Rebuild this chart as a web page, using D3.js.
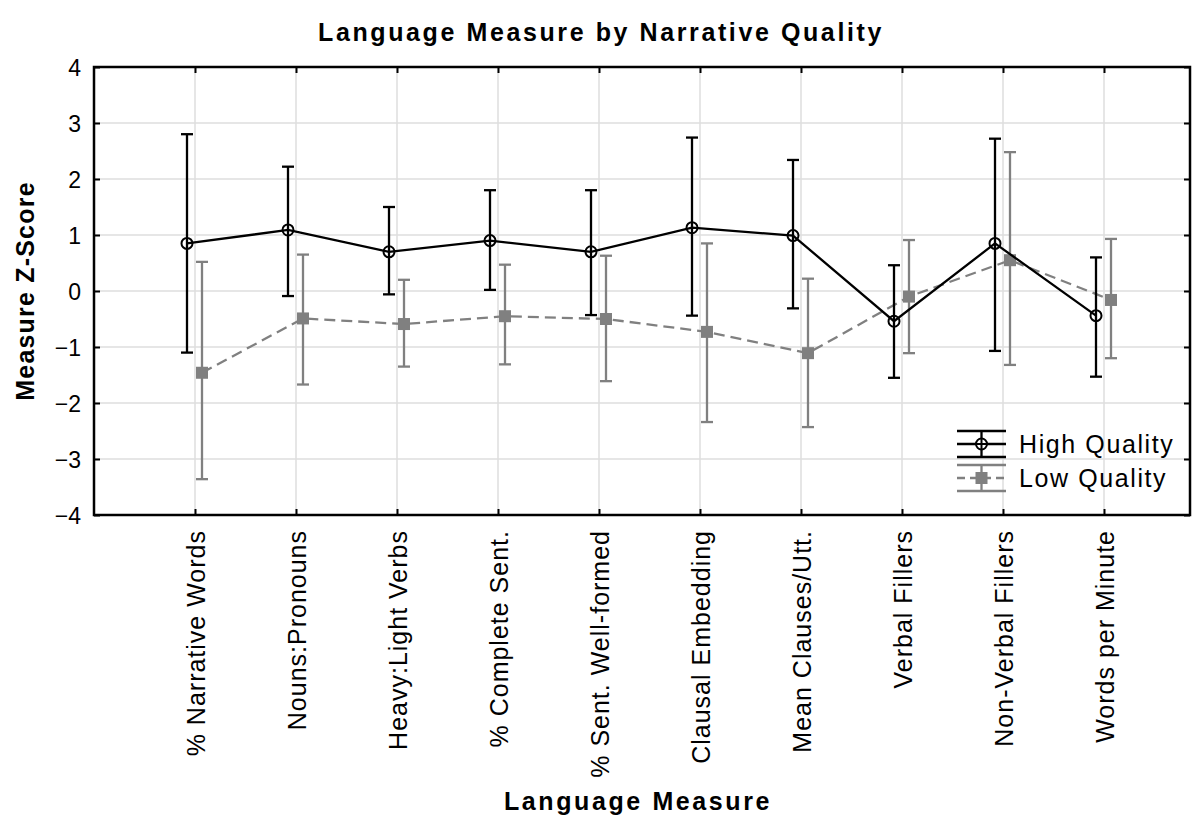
<!DOCTYPE html>
<html>
<head>
<meta charset="utf-8">
<script src="https://cdn.jsdelivr.net/npm/d3@7"></script>
<style>
  body { margin: 0; background: #fff; }
  text { font-family: "Liberation Sans", Arial, sans-serif; fill: #000; }
</style>
</head>
<body>
<script>
// categories along the x axis
let categories = ["% Narrative Words", "Nouns:Pronouns", "Heavy:Light Verbs", "% Complete Sent.",
  "% Sent. Well-formed", "Clausal Embedding", "Mean Clauses/Utt.", "Verbal Fillers",
  "Non-Verbal Fillers", "Words per Minute"];

// High Quality group: mean and error bar ends
let highMean  = [0.85, 1.09, 0.70, 0.90, 0.70, 1.13, 0.99, -0.54, 0.85, -0.44];
let highUpper = [2.80, 2.22, 1.50, 1.80, 1.80, 2.74, 2.34, 0.46, 2.72, 0.60];
let highLower = [-1.10, -0.09, -0.06, 0.02, -0.43, -0.44, -0.31, -1.55, -1.07, -1.53];

// Low Quality group
let lowMean  = [-1.46, -0.49, -0.59, -0.45, -0.50, -0.73, -1.11, -0.10, 0.55, -0.16];
let lowUpper = [0.52, 0.65, 0.20, 0.47, 0.63, 0.85, 0.22, 0.91, 2.48, 0.93];
let lowLower = [-3.36, -1.67, -1.35, -1.31, -1.61, -2.34, -2.43, -1.11, -1.32, -1.20];

let yTicks = [-4, -3, -2, -1, 0, 1, 2, 3, 4];

let width = 1203, height = 833;
let plotL = 94, plotR = 1190, plotT = 67, plotB = 515;

let svg = d3.select("body").append("svg")
  .attr("width", width).attr("height", height);

let x = d3.scalePoint().domain(categories).range([195, 1104]);
let y = d3.scaleLinear().domain([-4, 4]).range([plotB, plotT]);

// grid
let grid = svg.append("g");
grid.selectAll(".gy").data(yTicks.slice(1, -1)).join("line")
  .attr("x1", plotL).attr("x2", plotR)
  .attr("y1", d => y(d)).attr("y2", d => y(d))
  .attr("stroke", "#dedede").attr("stroke-width", 1.5);
grid.selectAll(".gx").data(categories).join("line")
  .attr("x1", d => x(d)).attr("x2", d => x(d))
  .attr("y1", plotT).attr("y2", plotB)
  .attr("stroke", "#dedede").attr("stroke-width", 1.5);

// axes, ticks pointing inside
let yAxisL = d3.axisLeft(y).tickValues(yTicks).tickSizeInner(-6).tickSizeOuter(0).tickPadding(13);
let gL = svg.append("g").attr("transform", "translate(" + plotL + ",0)").call(yAxisL);
let yAxisR = d3.axisRight(y).tickValues(yTicks).tickSizeInner(-6).tickSizeOuter(0).tickFormat("");
svg.append("g").attr("transform", "translate(" + plotR + ",0)").call(yAxisR);
let xAxisB = d3.axisBottom(x).tickSizeInner(-6).tickSizeOuter(0);
let gB = svg.append("g").attr("transform", "translate(0," + plotB + ")").call(xAxisB);
let xAxisT = d3.axisTop(x).tickSizeInner(-6).tickSizeOuter(0).tickFormat("");
svg.append("g").attr("transform", "translate(0," + plotT + ")").call(xAxisT);

svg.selectAll(".domain").remove();
svg.selectAll(".tick line").attr("stroke", "#000").attr("stroke-width", 2);
svg.append("rect")
  .attr("x", plotL).attr("y", plotT).attr("width", plotR - plotL).attr("height", plotB - plotT)
  .attr("fill", "none").attr("stroke", "#000").attr("stroke-width", 2.5);

gL.selectAll(".tick text").style("font-size", "23px").attr("dy", "0.36em");
gB.selectAll(".tick text")
  .style("font-size", "25px").style("letter-spacing", "1px")
  .attr("text-anchor", "end")
  .attr("transform", "rotate(-90)")
  .attr("x", -15).attr("y", 0).attr("dy", "0.36em");

// series
let series = [
  { name: "High Quality", mean: highMean, hi: highUpper, lo: highLower, off: -8, color: "#000", dash: null, shape: "circle" },
  { name: "Low Quality", mean: lowMean, hi: lowUpper, lo: lowLower, off: 7, color: "#808080", dash: "11,6", shape: "square" }
];

let line = d3.line().x(d => d.x).y(d => d.y);

// draw low first so the black series sits on top
series.slice().reverse().forEach(s => {
  let pts = categories.map((c, i) => ({ x: x(c) + s.off, y: y(s.mean[i]), hi: y(s.hi[i]), lo: y(s.lo[i]) }));
  let g = svg.append("g");
  g.append("path").datum(pts)
    .attr("d", line).attr("fill", "none")
    .attr("stroke", s.color).attr("stroke-width", 2.3)
    .attr("stroke-dasharray", s.dash);
  g.selectAll(".eb").data(pts).join("line")
    .attr("x1", d => d.x).attr("x2", d => d.x)
    .attr("y1", d => d.hi).attr("y2", d => d.lo)
    .attr("stroke", s.color).attr("stroke-width", 2.3);
  ["hi", "lo"].forEach(k => {
    g.selectAll(".cap" + k).data(pts).join("line")
      .attr("x1", d => d.x - 6).attr("x2", d => d.x + 6)
      .attr("y1", d => d[k]).attr("y2", d => d[k])
      .attr("stroke", s.color).attr("stroke-width", 2.3);
  });
  if (s.shape == "circle") {
    g.selectAll(".m").data(pts).join("circle")
      .attr("cx", d => d.x).attr("cy", d => d.y).attr("r", 5.5)
      .attr("fill", "none").attr("stroke", s.color).attr("stroke-width", 2);
  } else {
    g.selectAll(".m").data(pts).join("rect")
      .attr("x", d => d.x - 6).attr("y", d => d.y - 6).attr("width", 12).attr("height", 12)
      .attr("fill", s.color);
  }
});

// legend
let lg = svg.append("g").attr("transform", "translate(957,431)");
series.forEach((s, i) => {
  let row = lg.append("g").attr("transform", "translate(0," + (i * 34) + ")");
  [0, 26].forEach(yy => row.append("line")
    .attr("x1", 0).attr("x2", 49).attr("y1", yy).attr("y2", yy)
    .attr("stroke", s.color).attr("stroke-width", 2.3));
  row.append("line").attr("x1", 0).attr("x2", 49).attr("y1", 13).attr("y2", 13)
    .attr("stroke", s.color).attr("stroke-width", 2.3).attr("stroke-dasharray", s.dash ? "8,5" : null);
  row.append("line").attr("x1", 24.5).attr("x2", 24.5).attr("y1", 0).attr("y2", 26)
    .attr("stroke", s.color).attr("stroke-width", 2.3);
  if (s.shape == "circle") {
    row.append("circle").attr("cx", 24.5).attr("cy", 13).attr("r", 5.5)
      .attr("fill", "#fff").attr("stroke", s.color).attr("stroke-width", 2);
    row.append("line").attr("x1", 19).attr("x2", 30).attr("y1", 13).attr("y2", 13)
      .attr("stroke", s.color).attr("stroke-width", 2);
    row.append("line").attr("x1", 24.5).attr("x2", 24.5).attr("y1", 7.5).attr("y2", 18.5)
      .attr("stroke", s.color).attr("stroke-width", 2);
  } else {
    row.append("rect").attr("x", 18.5).attr("y", 7).attr("width", 12).attr("height", 12).attr("fill", s.color);
  }
  row.append("text").attr("x", 62).attr("y", 13).attr("dy", "0.36em")
    .style("font-size", "25px").style("letter-spacing", "1.6px").text(s.name);
});

// titles
svg.append("text").attr("x", 601).attr("y", 41).attr("text-anchor", "middle")
  .style("font-size", "25px").style("font-weight", "bold").style("letter-spacing", "2.6px")
  .text("Language Measure by Narrative Quality");
svg.append("text").attr("x", 638).attr("y", 810).attr("text-anchor", "middle")
  .style("font-size", "25px").style("font-weight", "bold").style("letter-spacing", "2.6px")
  .text("Language Measure");
svg.append("text").attr("transform", "translate(34,291) rotate(-90)").attr("text-anchor", "middle")
  .style("font-size", "25px").style("font-weight", "bold").style("letter-spacing", "1.2px")
  .text("Measure Z-Score");
</script>
</body>
</html>
